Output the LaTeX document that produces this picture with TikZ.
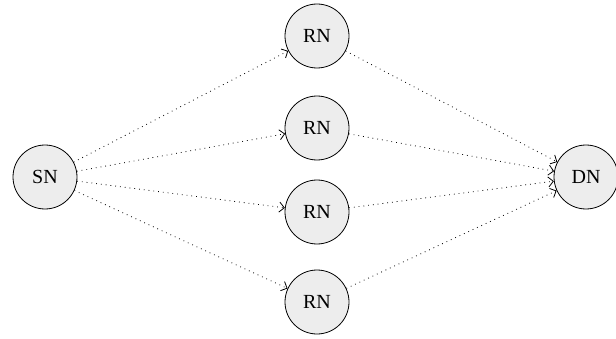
\documentclass[tikz,border=0pt]{standalone}
\usepackage{fontspec}
\setmainfont{Liberation Serif}
\usetikzlibrary{arrows.meta}
\begin{document}
\begin{tikzpicture}[x=1pt, y=1pt,
		nodecircle/.style={circle, draw, line width=0.8pt, fill=black!7, minimum size=64pt, inner sep=0pt, font=\fontsize{20}{24}\selectfont},
		link/.style={line width=0.8pt, dash pattern=on 0.8pt off 4pt, -{Straight Barb[length=5pt, width=10pt, line width=0.8pt]}}]
	\useasboundingbox (0, 0) rectangle (616, 338);

	\node[nodecircle] (sn) at (45, 161) {SN};
	\node[nodecircle] (dn) at (586, 161) {DN};

	\foreach \i/\y in {1/302, 2/210, 3/126, 4/36}
		\node[nodecircle] (rn\i) at (317, \y) {RN};

	\foreach \i in {1, 2, 3, 4}
		\draw[link] (sn) -- (rn\i);

	\foreach \i in {1, 2, 3, 4}
		\draw[link] (rn\i) -- (dn);
\end{tikzpicture}
\end{document}
